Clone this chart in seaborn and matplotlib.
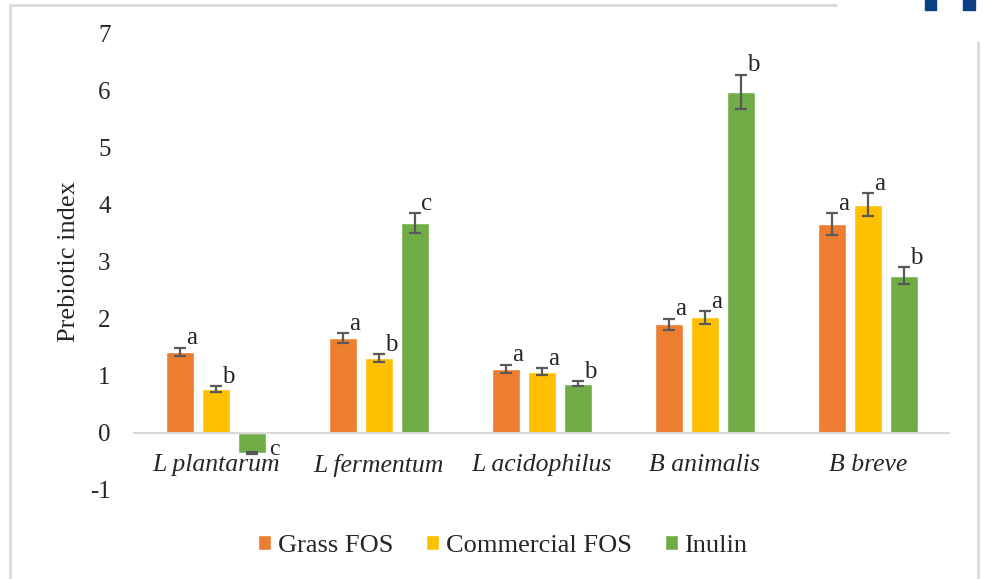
import matplotlib.pyplot as plt
import pandas as pd
import seaborn as sns
from matplotlib.lines import Line2D
from matplotlib.patches import Rectangle

# Data
strains = ['L plantarum', 'L fermentum', 'L acidophilus', 'B animalis', 'B breve']
treatments = ['Grass FOS', 'Commercial FOS', 'Inulin']
grass = [1.42, 1.66, 1.12, 1.90, 3.65]
commercial = [0.77, 1.31, 1.07, 2.02, 3.99]
inulin = [-0.35, 3.67, 0.86, 5.97, 2.75]
grass_err = [0.07, 0.08, 0.07, 0.10, 0.19]
commercial_err = [0.05, 0.07, 0.06, 0.11, 0.20]
inulin_err = [0.02, 0.17, 0.04, 0.30, 0.15]
grass_sig = ['a', 'a', 'a', 'a', 'a']
commercial_sig = ['b', 'b', 'a', 'a', 'a']
inulin_sig = ['c', 'c', 'b', 'b', 'b']

colors = ['#ED7D31', '#FFC000', '#70AD47']

df = pd.DataFrame({
    'strain': strains * 3,
    'treatment': [t for t in treatments for _ in strains],
    'value': grass + commercial + inulin,
})
errs = [grass_err, commercial_err, inulin_err]
sigs = [grass_sig, commercial_sig, inulin_sig]

sns.set_style('white')
plt.rcParams['font.family'] = ['Liberation Serif', 'DejaVu Serif']

fig = plt.figure(figsize=(9.87, 5.79), dpi=100)
ax = fig.add_axes([0.136, 0.154, 0.826, 0.789])

sns.barplot(data=df, x='strain', y='value', hue='treatment', order=strains,
            hue_order=treatments, palette=colors, width=0.66, gap=0.22,
            errorbar=None, saturation=1, ax=ax)

# axis styling (spine position first, it resets tick settings)
for side in ['top', 'right', 'left']:
    ax.spines[side].set_visible(False)
ax.spines['bottom'].set_position(('data', 0))
ax.spines['bottom'].set_color('#D9D9D9')
ax.spines['bottom'].set_linewidth(1.5)

for cont, err, sig in zip(ax.containers, errs, sigs):
    for bar, e, s in zip(cont, err, sig):
        cx = bar.get_x() + bar.get_width() / 2
        val = bar.get_height()
        ax.errorbar(cx, val, yerr=e, fmt='none', ecolor='#595959',
                    elinewidth=1.6, capsize=4.3, capthick=1.6)
        if val >= 0:
            ax.text(cx + 0.04, val + e - 0.03, s, fontsize=18, ha='left', va='bottom')
        else:
            ax.text(cx + 0.11, val - e + 0.08, s, fontsize=17, ha='left', va='center')

ax.set_xlim(-0.5, 4.5)
ax.set_ylim(-1, 7)
ax.set_yticks(range(-1, 8))
ax.set_yticklabels([str(i) for i in range(-1, 8)], fontsize=18)
ax.set_xticks(range(5))
ax.set_xticklabels(strains, fontsize=18.5, fontstyle='italic')
ax.set_xlabel('')
ax.set_ylabel('Prebiotic index', fontsize=19, labelpad=7)
ax.tick_params(axis='y', length=0, pad=17)
ax.tick_params(axis='x', length=0, pad=15)
for lbl in ax.get_xticklabels():
    lbl.set_zorder(0.5)

ax.legend(loc='upper center', bbox_to_anchor=(0.452, -0.047), ncol=3, frameon=False,
          fontsize=19, handlelength=0.5, handleheight=0.5, handletextpad=0.25,
          columnspacing=1.25)

# outer frame of the chart area
fw, fh = 987, 579
fig.add_artist(Line2D([10 / fw, 836 / fw], [1 - 5 / fh, 1 - 5 / fh], color='#D9D9D9', lw=2))
fig.add_artist(Line2D([10 / fw, 10 / fw], [0, 1 - 5 / fh], color='#D9D9D9', lw=2))
fig.add_artist(Line2D([978 / fw, 978 / fw], [0, 1 - 42 / fh], color='#D9D9D9', lw=2))
fig.add_artist(Rectangle((925 / fw, 1 - 10 / fh), 11 / fw, 10 / fh, color='#0B3F85'))
fig.add_artist(Rectangle((963 / fw, 1 - 10 / fh), 12 / fw, 10 / fh, color='#0B3F85'))

fig.savefig('out.png', dpi=100)
